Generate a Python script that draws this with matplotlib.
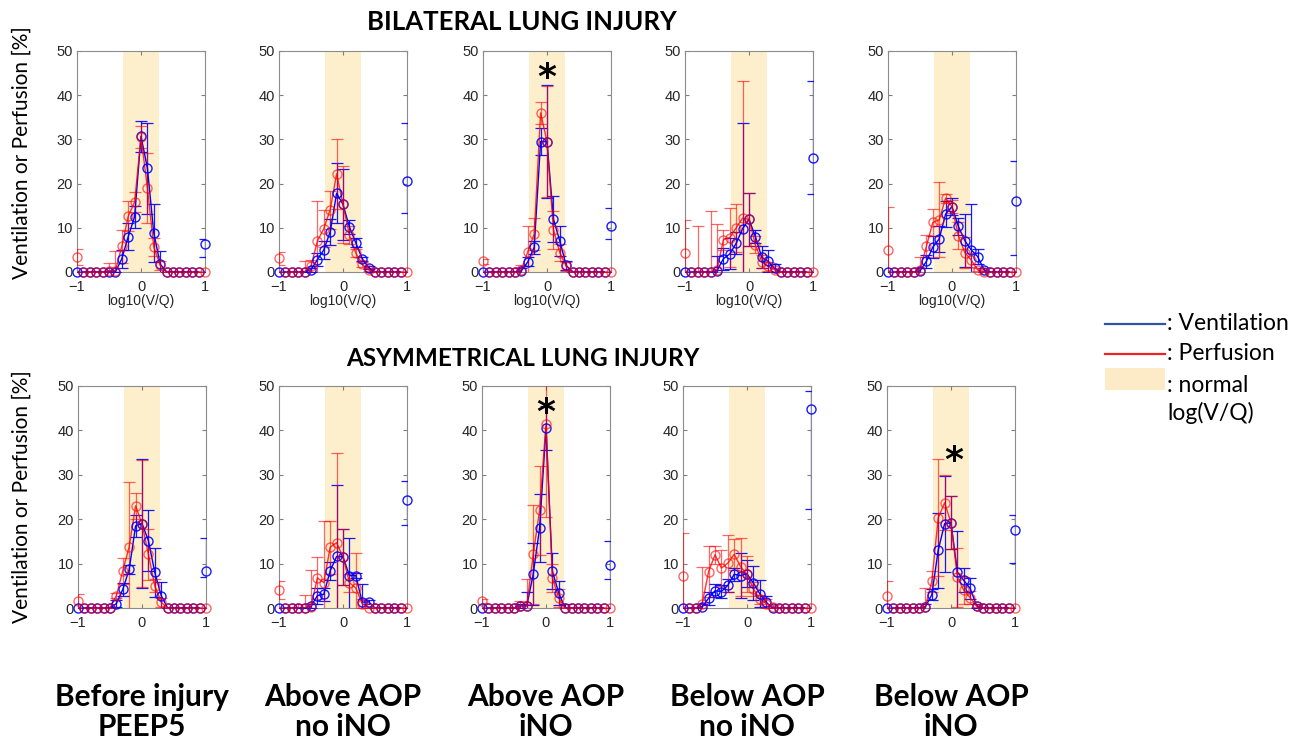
#!/usr/bin/env python3
import numpy as np
import matplotlib
matplotlib.use('Agg')
import matplotlib.pyplot as plt
from matplotlib.patches import Rectangle

# log10(V/Q) bins, -1 .. 1 in steps of 0.1
log_vq = np.round(np.arange(-1.0, 1.0001, 0.1), 1)
normal_band = (-0.28, 0.28)

conditions = ['Before injury\nPEEP5', 'Above AOP\nno iNO', 'Above AOP\niNO',
              'Below AOP\nno iNO', 'Below AOP\niNO']
row_titles = ['BILATERAL LUNG INJURY', 'ASYMMETRICAL LUNG INJURY']

# bilateral lung injury
vent_bil = [
    [0, 0, 0, 0, 0, 0, 0, 3.0, 8.0, 12.5, 30.7, 23.5, 8.8, 1.8, 0, 0, 0, 0, 0, 0, 6.3],
    [0, 0, 0, 0, 0, 0.5, 2.8, 5.0, 9.1, 17.8, 15.3, 10.2, 6.6, 3.0, 1.0, 0, 0, 0, 0, 0, 20.7],
    [0, 0, 0, 0, 0, 0, 0.3, 2.3, 5.6, 29.5, 29.5, 12.0, 7.0, 1.5, 0, 0, 0, 0, 0, 0, 10.5],
    [0, 0, 0, 0, 0, 0.3, 3.0, 4.1, 6.5, 9.8, 11.9, 8.0, 3.3, 2.4, 0.8, 0, 0, 0, 0, 0, 25.7],
    [0, 0, 0, 0, 0, 0.3, 2.4, 5.6, 7.5, 13.1, 14.8, 10.3, 7.1, 5.0, 3.5, 0.5, 0, 0, 0, 0, 16.1],
]
vent_bil_err = [
    [0, 0, 0, 0, 0, 0, 0, 2.0, 3.0, 2.5, 3.5, 10.3, 6.5, 3.0, 0, 0, 0, 0, 0, 0, 0],
    [0, 0, 0, 0, 0, 0.5, 1.5, 2.0, 3.0, 6.8, 8.0, 1.5, 1.0, 0.5, 0.3, 0, 0, 0, 0, 0, 0],
    [0, 0, 0, 0, 0, 0, 0.5, 1.0, 1.5, 3.0, 12.7, 5.3, 3.4, 1.0, 0, 0, 0, 0, 0, 0, 0],
    [0, 0, 0, 0, 0, 3.3, 2.5, 3.5, 2.5, 24.0, 6.0, 1.5, 2.5, 2.5, 1.0, 0, 0, 0, 0, 0, 0],
    [0, 0, 0, 0, 0, 0.5, 1.5, 2.5, 3.0, 3.0, 2.0, 2.0, 6.0, 10.3, 1.8, 0.5, 0, 0, 0, 0, 0],
]
perf_bil = [
    [3.3, 0, 0, 0, 0, 0.3, 0.3, 5.8, 12.6, 15.8, 30.6, 19.0, 5.7, 1.5, 0, 0, 0, 0, 0, 0, 0],
    [3.1, 0, 0, 0, 0, 1.3, 7.0, 9.8, 14.1, 22.2, 15.3, 8.3, 4.3, 1.7, 0.5, 0, 0, 0, 0, 0, 0],
    [2.4, 0, 0, 0, 0, 0, 0.5, 4.6, 8.6, 36.0, 29.5, 9.6, 4.4, 1.3, 0, 0, 0, 0, 0, 0, 0],
    [4.2, 0, 0, 0, 0, 0.5, 7.3, 7.8, 10.0, 12.2, 11.9, 6.2, 2.3, 1.3, 0.5, 0, 0, 0, 0, 0, 0],
    [4.9, 0, 0, 0, 0, 0.5, 5.8, 11.2, 11.8, 16.7, 14.8, 8.2, 4.4, 2.7, 0.5, 0, 0, 0, 0, 0, 0],
]
perf_bil_err = [
    [1.8, 0, 0, 0, 0, 1.7, 4.5, 3.7, 3.4, 2.3, 2.5, 8.0, 2.0, 1.0, 0, 0, 0, 0, 0, 0, 0],
    [1.5, 0, 0, 0, 2.5, 1.5, 9.0, 4.2, 4.3, 8.0, 8.7, 2.0, 1.0, 0.5, 0.3, 0, 0, 0, 0, 0, 0],
    [0.5, 0, 0, 0, 0, 0, 1.0, 5.8, 3.7, 2.5, 12.5, 4.3, 2.0, 1.0, 0, 0, 0, 0, 0, 0, 0],
    [7.5, 0, 10.3, 0, 13.7, 10.3, 2.3, 6.6, 5.4, 31.0, 6.0, 2.0, 1.5, 1.0, 0.5, 0, 0, 0, 0, 0, 0],
    [9.9, 0, 0, 0, 0, 3.0, 2.5, 3.0, 8.5, 1.0, 1.5, 3.0, 3.5, 1.5, 0.3, 0, 0, 0, 0, 0, 0],
]
# dead space bin (V/Q > 10): asymmetric error bars
dead_bil_lo = [2.8, 7.3, 3.0, 8.0, 12.3]
dead_bil_hi = [1.1, 12.9, 4.0, 17.6, 8.9]

# asymmetrical lung injury
vent_asy = [
    [0, 0, 0, 0, 0, 0, 1.0, 4.2, 8.7, 18.5, 19.0, 15.2, 8.0, 2.8, 0, 0, 0, 0, 0, 0, 8.3],
    [0, 0, 0, 0, 0, 0.4, 2.8, 3.1, 8.4, 11.6, 11.5, 7.3, 7.3, 1.3, 1.4, 0, 0, 0, 0, 0, 24.4],
    [0, 0, 0, 0, 0, 0, 0.5, 0.5, 7.6, 18.0, 40.6, 8.3, 3.3, 0, 0, 0, 0, 0, 0, 0, 9.7],
    [0, 0, 0, 0.3, 2.2, 3.9, 3.7, 5.1, 7.6, 7.3, 7.7, 5.6, 3.2, 1.3, 0, 0, 0, 0, 0, 0, 44.9],
    [0, 0, 0, 0, 0, 0, 0.3, 3.0, 13.0, 19.0, 19.2, 8.1, 6.2, 4.4, 0.5, 0, 0, 0, 0, 0, 17.6],
]
vent_asy_err = [
    [0, 0, 0, 0, 0, 0, 0.8, 1.5, 1.0, 2.5, 14.5, 6.8, 5.5, 3.0, 0, 0, 0, 0, 0, 0, 0],
    [0, 0, 0, 0, 0, 0.5, 1.8, 1.5, 2.0, 16.0, 6.4, 8.5, 0.5, 4.0, 0.5, 0, 0, 0, 0, 0, 0],
    [0, 0, 0, 0, 0, 0, 0.5, 3.0, 7.0, 7.6, 5.0, 4.0, 2.7, 1.0, 0, 0, 0, 0, 0, 0, 0],
    [0, 0, 0, 0.5, 1.5, 1.5, 1.5, 1.5, 1.5, 5.0, 3.0, 3.8, 3.0, 1.5, 0, 0, 0, 0, 0, 0, 0],
    [0, 0, 0, 0, 0, 0, 0.5, 1.2, 8.5, 10.8, 6.0, 9.2, 2.7, 2.3, 0.5, 0, 0, 0, 0, 0, 0],
]
perf_asy = [
    [1.6, 0, 0, 0, 0, 0, 2.8, 8.4, 13.8, 23.0, 19.0, 12.1, 5.0, 1.3, 0, 0, 0, 0, 0, 0, 0],
    [4.0, 0, 0, 0, 0, 0.3, 6.8, 5.7, 13.7, 14.7, 11.5, 5.7, 4.5, 1.0, 0, 0, 0, 0, 0, 0, 0],
    [1.6, 0, 0, 0, 0, 0, 0.5, 0.5, 12.1, 22.0, 41.5, 6.8, 2.2, 0, 0, 0, 0, 0, 0, 0, 0],
    [7.3, 0, 0, 1.0, 8.2, 12.0, 9.0, 10.1, 12.1, 9.3, 7.6, 4.3, 2.0, 1.0, 0.3, 0, 0, 0, 0, 0, 0],
    [2.8, 0, 0, 0, 0, 0, 0.3, 6.0, 20.3, 23.7, 19.2, 6.9, 4.0, 2.3, 0.5, 0, 0, 0, 0, 0, 0],
]
perf_asy_err = [
    [1.5, 0, 0, 0, 0, 0, 0.5, 2.9, 14.6, 2.9, 14.3, 5.7, 1.5, 1.0, 0, 0, 0, 0, 0, 0, 0],
    [2.0, 0, 0, 1.0, 3.0, 8.3, 4.7, 14.0, 6.0, 20.3, 6.4, 2.0, 8.0, 1.0, 0, 0, 0, 0, 0, 0, 0],
    [0.5, 0, 0, 0, 0, 0, 1.0, 6.0, 11.2, 10.0, 21.0, 3.2, 2.0, 0, 0, 0, 0, 0, 0, 0, 0],
    [9.5, 0, 0, 8.3, 5.7, 2.0, 4.0, 6.4, 3.5, 6.5, 4.0, 1.5, 1.0, 1.0, 0.3, 0, 0, 0, 0, 0, 0],
    [3.3, 0, 0, 0, 0, 0, 4.3, 2.4, 13.2, 6.2, 6.0, 6.6, 3.0, 1.5, 0.3, 0, 0, 0, 0, 0, 0],
]
dead_asy_lo = [1.3, 5.8, 3.2, 22.6, 7.4]
dead_asy_hi = [7.5, 4.2, 5.5, 3.9, 3.4]

# significance stars: (row, column, x, y)
stars = [(0, 2, 0.0, 44), (1, 2, 0.0, 44), (1, 4, 0.05, 33)]

BLUE = '#0000ff'
RED = '#ff0000'
BAND = '#fdefcc'
TEXT_FONT = ['Lato', 'DejaVu Sans']
TICK_FONT = ['Liberation Sans', 'DejaVu Sans']


def plot_series(ax, y, err, color, alpha, dead=None):
    y = np.asarray(y, dtype=float)
    lo = np.asarray(err, dtype=float).copy()
    hi = lo.copy()
    if dead is not None:
        lo[-1], hi[-1] = dead
    ax.errorbar(log_vq, y, yerr=[lo, hi], fmt='none', ecolor=color,
                elinewidth=0.9, capsize=4, capthick=0.9, alpha=alpha, zorder=3)
    ax.plot(log_vq[1:-1], y[1:-1], color=color, lw=1.0, alpha=min(1, alpha + 0.2), zorder=4)
    ax.plot(log_vq, y, 'o', mfc='none', mec=color, ms=6.5, mew=1.0,
            alpha=alpha, clip_on=False, zorder=5)


def style_axes(ax, show_xlabel):
    ax.set_xlim(-1, 1)
    ax.set_ylim(0, 50)
    ax.set_xticks([-1, 0, 1])
    ax.set_yticks([0, 10, 20, 30, 40, 50])
    ax.tick_params(direction='in', top=True, right=True, length=3,
                   color='#7f7f7f', labelcolor='#262626', labelsize=10.5, pad=3)
    ax.tick_params(axis='x', pad=6)
    for lab in ax.get_xticklabels() + ax.get_yticklabels():
        lab.set_family(TICK_FONT)
    for sp in ax.spines.values():
        sp.set_color('#8c8c8c')
        sp.set_linewidth(0.8)
    if show_xlabel:
        ax.set_xlabel('log10(V/Q)', fontsize=10, family=TICK_FONT, color='#262626', labelpad=0)


def draw_key(fig, W, H):
    # hand-drawn key on the right, in pixel units
    key = fig.add_axes([0, 0, 1, 1])
    key.set_xlim(0, W)
    key.set_ylim(H, 0)
    key.axis('off')
    key.plot([1105, 1165], [324, 324], color='#2f54a8', lw=1.6)
    key.plot([1105, 1165], [354, 354], color='#ee2222', lw=1.6)
    key.add_patch(Rectangle((1105, 368), 60, 22, facecolor='#fdebc8', edgecolor='none'))
    kw = dict(ha='left', va='center', fontsize=16.5, family=TEXT_FONT)
    key.text(1167, 324, ': Ventilation', **kw)
    key.text(1167, 354, ': Perfusion', **kw)
    key.text(1167, 385, ': normal', **kw)
    key.text(1167, 413, 'log(V/Q)', **kw)


def main():
    fig = plt.figure(figsize=(13.03, 7.43), dpi=100)
    W, H = 1303.0, 743.0
    lefts = [[77, 279, 483, 685, 888], [78, 279, 482, 683, 887]]
    tops = [51, 386]
    bottoms = [272, 608]
    width = 128
    ylabel_y = [153, 497]

    rows = [(vent_bil, vent_bil_err, perf_bil, perf_bil_err, dead_bil_lo, dead_bil_hi),
            (vent_asy, vent_asy_err, perf_asy, perf_asy_err, dead_asy_lo, dead_asy_hi)]

    for r, (vent, vent_err, perf, perf_err, d_lo, d_hi) in enumerate(rows):
        for c in range(5):
            ax = fig.add_axes([lefts[r][c] / W, 1 - bottoms[r] / H,
                               width / W, (bottoms[r] - tops[r]) / H])
            ax.axvspan(*normal_band, color=BAND, lw=0, zorder=0)
            plot_series(ax, vent[c], vent_err[c], BLUE, 0.9, dead=(d_lo[c], d_hi[c]))
            plot_series(ax, perf[c], perf_err[c], RED, 0.6)
            style_axes(ax, r == 0)
            for sr, sc, sx, sy in stars:
                if sr == r and sc == c:
                    ax.text(sx, sy, '*', ha='center', va='center', fontsize=26,
                            fontweight='bold', color='black', zorder=6)

        fig.text(22 / W, 1 - ylabel_y[r] / H, 'Ventilation or Perfusion [%]',
                 rotation=90, ha='center', va='center', fontsize=15, family=TEXT_FONT)

    fig.text(522 / W, 1 - 22 / H, row_titles[0], ha='center', va='center',
             fontsize=18.5, fontweight='bold', family=TEXT_FONT)
    fig.text(523 / W, 1 - 358 / H, row_titles[1], ha='center', va='center',
             fontsize=17.5, fontweight='bold', family=TEXT_FONT)

    for c, name in enumerate(conditions):
        cx = (lefts[1][c] + width / 2) / W
        fig.text(cx, 1 - 712 / H, name, ha='center', va='center', fontsize=21.5,
                 fontweight='bold', family=TEXT_FONT, linespacing=1.05)

    draw_key(fig, W, H)

    fig.savefig('out.png', dpi=100)


if __name__ == '__main__':
    main()
